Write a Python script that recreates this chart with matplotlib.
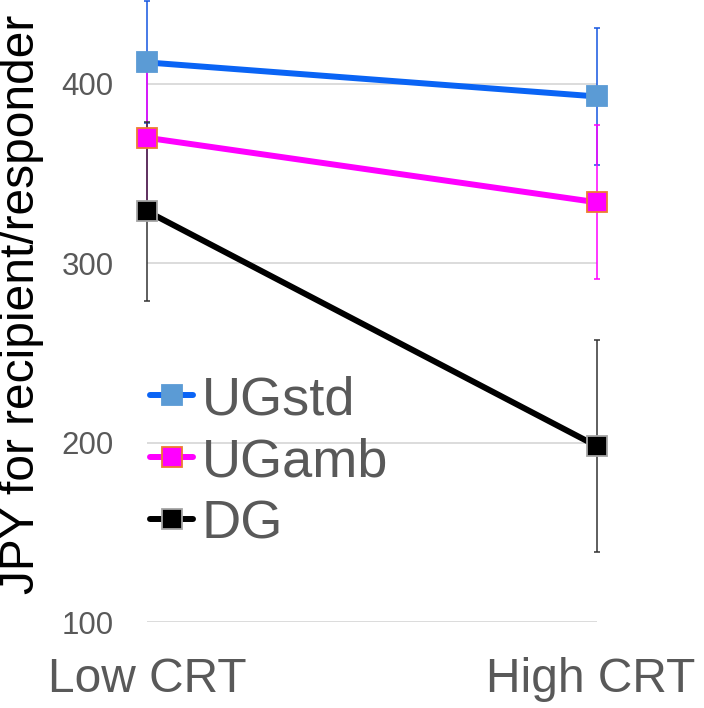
import numpy as np
import matplotlib
matplotlib.use('Agg')
import matplotlib.pyplot as plt
import matplotlib.transforms as mtransforms

plt.rcParams['font.family'] = ['Liberation Sans', 'DejaVu Sans']

# data
categories = ['Low CRT', 'High CRT']
ug_std = [412, 393]
ug_std_err = [34, 38]
ug_amb = [370, 334]
ug_amb_err = [37, 43]
dg = [329, 198]
dg_err = [50, 59]
y_ticks = [100, 200, 300, 400]

series = [
    # label, values, errors, line colour, face, edge, error colour
    ('UGstd', ug_std, ug_std_err, '#0A64F5', '#5B9BD5', '#5B9BD5', '#1556E0'),
    ('UGamb', ug_amb, ug_amb_err, '#FF00FF', '#FF00FF', '#ED7D31', '#FF00FF'),
    ('DG', dg, dg_err, '#000000', '#000000', '#A5A5A5', '#333333'),
]

fig = plt.figure(figsize=(7.04, 7.08), dpi=100)
ax = fig.add_axes([147 / 704, 1 - 622 / 708, 450 / 704, 622 / 708])

x = np.arange(len(categories))
for label, vals, errs, lc, fc, ec, errc in series:
    ax.errorbar(x, vals, yerr=errs, fmt='none', ecolor=errc, elinewidth=1.1,
                capsize=2.5, capthick=1.1, clip_on=False, zorder=3)
    ax.plot(x, vals, color=lc, lw=4.3, marker='s', ms=15, mfc=fc, mec=ec,
            mew=1.3, solid_capstyle='round', clip_on=False, zorder=4,
            label=label)

ax.set_xlim(0, 1)
ax.set_ylim(100, 446.8)
ax.set_yticks(y_ticks)
ax.set_xticks(x)
ax.set_xticklabels(categories, fontsize=34.5, color='#595959')
ax.tick_params(axis='y', labelsize=22.5, labelcolor='#595959', length=0, pad=24)
ax.tick_params(axis='x', length=0, pad=25)
ax.grid(axis='y', color='#D9D9D9', lw=1.3)
ax.set_axisbelow(True)
for s in ax.spines.values():
    s.set_visible(False)

# last category label sits a little left so it stays inside the figure
lbl = ax.get_xticklabels()[-1]
lbl.set_transform(lbl.get_transform() +
                  mtransforms.ScaledTranslation(-6 / 100, 0, fig.dpi_scale_trans))

leg = ax.legend(loc='center left', bbox_to_anchor=(0.007, 0.257),
                frameon=False, fontsize=39, handlelength=0.8,
                handletextpad=0.15, labelspacing=0.22, borderpad=0,
                borderaxespad=0)
for t in leg.get_texts():
    t.set_color('#595959')

fig.text(0.03, 0.57, 'JPY for recipient/responder', rotation=90,
         fontsize=34.5, ha='center', va='center', color='black')

fig.savefig('out.png', dpi=100)
